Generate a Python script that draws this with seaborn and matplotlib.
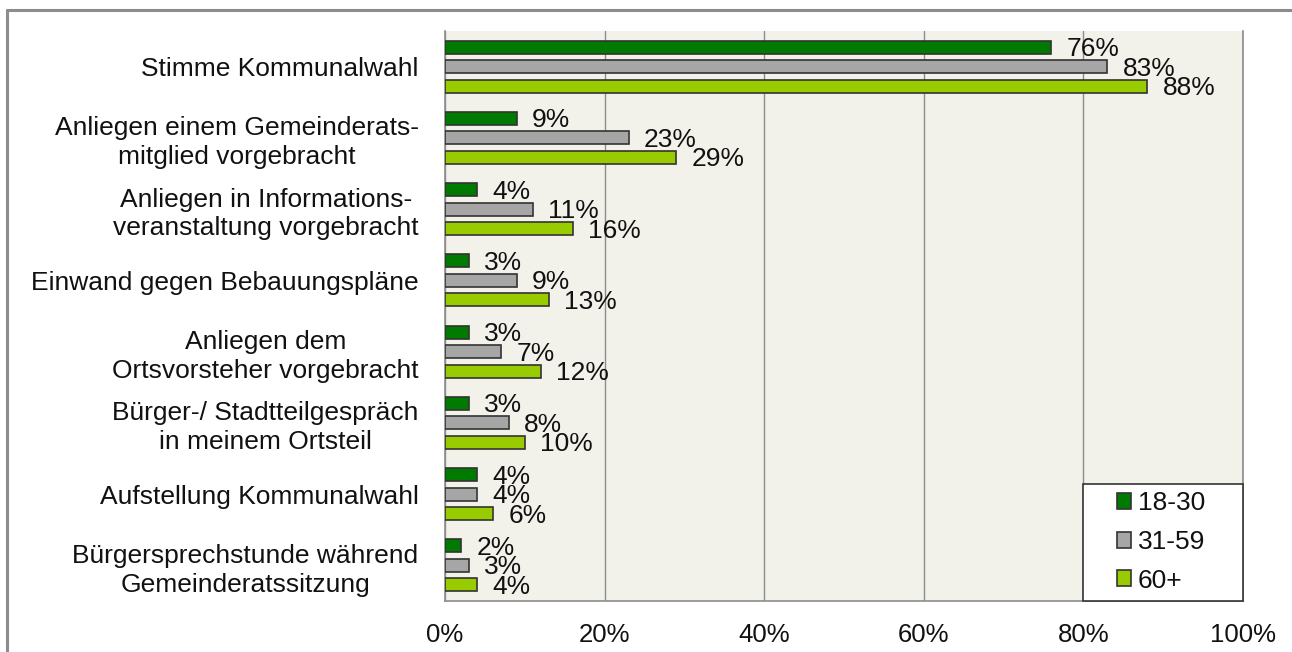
import pandas as pd
import matplotlib
matplotlib.use("Agg")
import matplotlib.pyplot as plt
import seaborn as sns
from matplotlib.patches import Rectangle
from matplotlib.lines import Line2D
from matplotlib.ticker import FuncFormatter

CATEGORIES = [
    "Stimme Kommunalwahl",
    "Anliegen einem Gemeinderats-\nmitglied vorgebracht",
    "Anliegen in Informations-\nveranstaltung vorgebracht",
    "Einwand gegen Bebauungspläne",
    "Anliegen dem\nOrtsvorsteher vorgebracht",
    "Bürger-/ Stadtteilgespräch\nin meinem Ortsteil",
    "Aufstellung Kommunalwahl",
    "Bürgersprechstunde während\nGemeinderatssitzung",
]
GROUPS = ["18-30", "31-59", "60+"]
AGE_18_30 = [76, 9, 4, 3, 3, 3, 4, 2]
AGE_31_59 = [83, 23, 11, 9, 7, 8, 4, 3]
AGE_60_PLUS = [88, 29, 16, 13, 12, 10, 6, 4]

COLORS = ["#007A00", "#A6A6A6", "#99CC00"]
TEXT = "#111111"


def build_frame():
    rows = []
    for grp, vals in zip(GROUPS, [AGE_18_30, AGE_31_59, AGE_60_PLUS]):
        for cat, v in zip(CATEGORIES, vals):
            rows.append({"Kategorie": cat, "Alter": grp, "Wert": v})
    return pd.DataFrame(rows)


def main():
    sns.set_style("white")
    plt.rcParams["font.family"] = ["Liberation Sans", "DejaVu Sans"]
    plt.rcParams["font.size"] = 19

    df = build_frame()
    fig = plt.figure(figsize=(12.92, 6.52), dpi=100)
    ax = fig.add_axes([445 / 1292, 1 - 601 / 652, 798 / 1292, 570 / 652])
    ax.set_facecolor("#F2F1EA")

    sns.barplot(data=df, y="Kategorie", x="Wert", hue="Alter", palette=COLORS,
                order=CATEGORIES, hue_order=GROUPS, orient="h",
                width=0.82, gap=0.34, edgecolor="#333333", linewidth=1.2,
                saturation=1, ax=ax, zorder=3)

    # value labels, nudged a little below the bar centre like the original
    for container in ax.containers:
        anns = ax.bar_label(container, labels=[f"{v:.0f}%" for v in container.datavalues],
                            padding=11, fontsize=19, color=TEXT)
        for a in anns:
            a.xyann = (11, -1.5)

    ax.set_xlim(0, 100)
    ax.set_ylim(7.5, -0.5)
    ax.set_xticks(range(0, 101, 20))
    ax.xaxis.set_major_formatter(FuncFormatter(lambda v, p: f"{v:.0f}%"))
    ax.grid(axis="x", color="#8C8C8C", linewidth=1, zorder=0)
    ax.set_axisbelow(True)
    ax.set_xlabel("")
    ax.set_ylabel("")
    ax.tick_params(axis="x", length=0, pad=16, labelsize=18.5, labelcolor=TEXT)
    ax.tick_params(axis="y", length=0, pad=19, labelsize=19, labelcolor=TEXT)
    for lbl in ax.get_yticklabels():
        lbl.set_multialignment("center")
        lbl.set_linespacing(1.25)

    ax.spines["top"].set_visible(False)
    for side in ["left", "bottom", "right"]:
        ax.spines[side].set_color("#8C8C8C")
        ax.spines[side].set_linewidth(1.2)

    # legend box drawn separately so the entries sit centred in it
    ax.add_patch(Rectangle((638 / 798, 0), 160 / 798, 117 / 570,
                           transform=ax.transAxes, facecolor="white",
                           edgecolor="#333333", linewidth=1.2, zorder=5,
                           clip_on=False))
    leg = ax.legend(loc="center", bbox_to_anchor=(716 / 798, 59 / 570),
                    frameon=False, fontsize=19, handlelength=0.55,
                    handleheight=0.55, handletextpad=0.25, labelspacing=0.55,
                    borderpad=0.0)
    leg.set_zorder(6)
    for txt in leg.get_texts():
        txt.set_color(TEXT)

    # outer frame of the figure (top and left only)
    fig.lines.append(Line2D([7 / 1292, 7 / 1292], [0, 1 - 9.5 / 652],
                            transform=fig.transFigure, color="#8C8C8C", linewidth=2.2))
    fig.lines.append(Line2D([7 / 1292, 1], [1 - 9.5 / 652, 1 - 9.5 / 652],
                            transform=fig.transFigure, color="#8C8C8C", linewidth=2.2))

    fig.savefig("out.png", dpi=100, facecolor="white")


if __name__ == "__main__":
    main()
